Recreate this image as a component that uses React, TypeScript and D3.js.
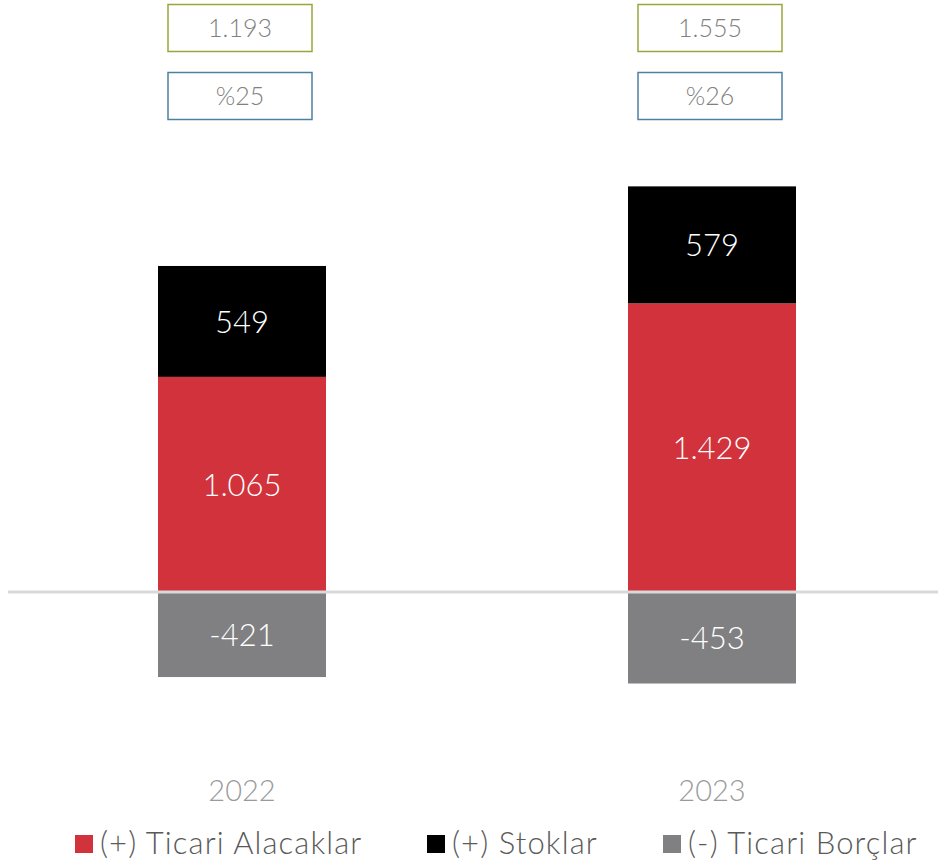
import React from "react";
import * as d3 from "d3";

const years = ["2022", "2023"];
const receivables = [1065, 1429];
const inventories = [549, 579];
const payables = [-421, -453];
const totals = ["1.193", "1.555"];
const ratios = ["%25", "%26"];
const legendLabels = ["(+) Ticari Alacaklar", "(+) Stoklar", "(-) Ticari Borçlar"];
const colors = ["#d1323b", "#000000", "#808083"];

const fmt = (v: number) => {
  const s = Math.abs(v).toString();
  const withDots = s.replace(/\B(?=(\d{3})+(?!\d))/g, ".");
  return (v < 0 ? "-" : "") + withDots;
};

export default function App() {
  const W = 938, H = 865;
  const x = d3.scalePoint<string>().domain(years).range([242, 712]);
  const y = d3.scaleLinear().domain([-500, 2500]).range([693, 87]);
  const bw = 168;
  const font = "Lato, 'Open Sans', sans-serif";

  return (
    <svg width={W} height={H} style={{ position: "absolute", left: 0, top: 0 }} fontFamily={font}>
      <rect width={W} height={H} fill="#fff" />
      {years.map((yr, i) => {
        const cx = x(yr)!;
        const r0 = y(0), r1 = y(receivables[i]);
        const s1 = y(receivables[i] + inventories[i]);
        const p1 = y(payables[i]);
        return (
          <g key={yr}>
            <rect x={cx - bw / 2} y={r1} width={bw} height={r0 - r1} fill={colors[0]} />
            <rect x={cx - bw / 2} y={s1} width={bw} height={r1 - s1} fill={colors[1]} />
            <rect x={cx - bw / 2} y={r0} width={bw} height={p1 - r0} fill={colors[2]} />
            <text x={cx} y={(r0 + r1) / 2} dy="0.36em" textAnchor="middle" fill="#fff" fontSize={31} fontWeight={300}>{fmt(receivables[i])}</text>
            <text x={cx} y={(r1 + s1) / 2} dy="0.36em" textAnchor="middle" fill="#fff" fontSize={31} fontWeight={300}>{fmt(inventories[i])}</text>
            <text x={cx} y={(r0 + p1) / 2} dy="0.36em" textAnchor="middle" fill="#fff" fontSize={31} fontWeight={300}>{fmt(payables[i])}</text>
            <text x={cx} y={791} dy="0.36em" textAnchor="middle" fill="#9a9a9a" fontSize={29} fontWeight={300}>{yr}</text>
            <rect x={cx - 74} y={4.5} width={144} height={47} fill="#fff" stroke="#9aa63c" strokeWidth={1.5} />
            <text x={cx - 2} y={28} dy="0.36em" textAnchor="middle" fill="#808080" fontSize={25} fontWeight={300}>{totals[i]}</text>
            <rect x={cx - 74} y={72.5} width={144} height={47} fill="#fff" stroke="#4e81a0" strokeWidth={1.5} />
            <text x={cx - 2} y={96} dy="0.36em" textAnchor="middle" fill="#808080" fontSize={25} fontWeight={300}>{ratios[i]}</text>
          </g>
        );
      })}
      <line x1={8} x2={938} y1={y(0)} y2={y(0)} stroke="#d9d9d9" strokeWidth={3} />
      {legendLabels.map((l, i) => {
        const lx = [75, 427, 663][i];
        return (
          <g key={l}>
            <rect x={lx} y={835} width={18} height={18} fill={colors[i]} />
            <text x={lx + 25} y={843} dy="0.36em" fill="#595959" fontSize={31} fontWeight={300} letterSpacing={1.1}>{l}</text>
          </g>
        );
      })}
    </svg>
  );
}
